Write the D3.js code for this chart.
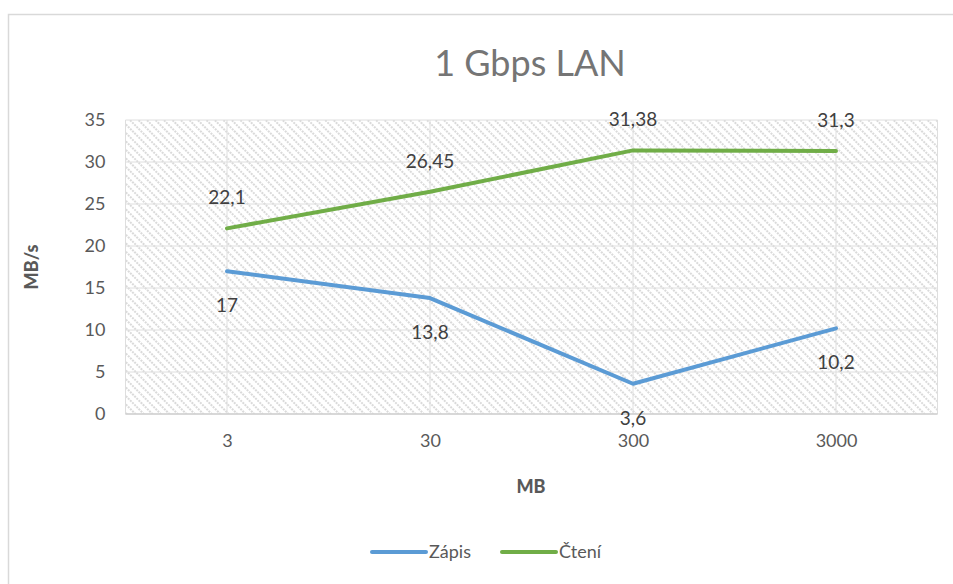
<!DOCTYPE html>
<html>
<head>
<meta charset="utf-8">
<script src="https://cdn.jsdelivr.net/npm/d3@7"></script>
<style>
  body { margin: 0; background: #fff; }
  svg text { font-family: Lato, "Open Sans", sans-serif; }
</style>
</head>
<body>
<svg id="chart" width="953" height="584"></svg>
<script>
// chart data
var categories = ['3', '30', '300', '3000'];
var zapis = [17, 13.8, 3.6, 10.2];
var cteni = [22.1, 26.45, 31.38, 31.3];
var yTicks = [0, 5, 10, 15, 20, 25, 30, 35];
var seriesNames = ['Zápis', 'Čtení'];
var seriesColors = ['#5b9bd5', '#70ad47'];

var svg = d3.select('#chart');

// hatch fill of the plot area ("\" direction)
var defs = svg.append('defs');
var pat = defs.append('pattern').attr('id', 'hatch')
    .attr('patternUnits', 'userSpaceOnUse').attr('width', 6).attr('height', 6)
    .attr('patternTransform', 'rotate(-45)');
pat.append('rect').attr('width', 6).attr('height', 6).attr('fill', '#fff');
pat.append('line').attr('x1', 1).attr('y1', 0).attr('x2', 1).attr('y2', 6)
   .attr('stroke', '#d6d6d6').attr('stroke-width', 1.8).attr('stroke-dasharray', '2,1');

// outer chart frame
svg.append('rect').attr('x', 8.5).attr('y', 14.5).attr('width', 960).attr('height', 600)
   .attr('fill', '#fff').attr('stroke', '#d9d9d9').attr('stroke-width', 1.5);

var x = d3.scalePoint().domain(categories).range([227, 836]).padding(0);
var step = x.step();
var plotL = x(categories[0]) - step / 2, plotR = x(categories[categories.length - 1]) + step / 2;
var y = d3.scaleLinear().domain([0, 35]).range([414, 120]);

var g = svg.append('g');
g.append('rect').attr('x', plotL).attr('y', y(35)).attr('width', plotR - plotL)
 .attr('height', y(0) - y(35)).attr('fill', 'url(#hatch)');

// gridlines
g.selectAll('.hgrid').data(yTicks).enter().append('line')
 .attr('x1', plotL).attr('x2', plotR).attr('y1', function (d) { return y(d); }).attr('y2', function (d) { return y(d); })
 .attr('stroke', '#dedede').attr('stroke-width', 1);
g.selectAll('.vgrid').data(categories).enter().append('line')
 .attr('x1', function (d) { return x(d); }).attr('x2', function (d) { return x(d); })
 .attr('y1', y(35)).attr('y2', y(0)).attr('stroke', '#dedede').attr('stroke-width', 1);
[plotL, plotR].forEach(function (xx) {
    g.append('line').attr('x1', xx).attr('x2', xx).attr('y1', y(35)).attr('y2', y(0))
     .attr('stroke', '#dedede').attr('stroke-width', 1);
});
g.append('line').attr('x1', plotL).attr('x2', plotR).attr('y1', y(0)).attr('y2', y(0))
 .attr('stroke', '#d0d0d0').attr('stroke-width', 1.5);

// axes labels
var yAxis = d3.axisLeft(y).tickValues(yTicks).tickSize(0).tickPadding(20);
var ya = g.append('g').attr('transform', 'translate(' + plotL + ',0)').call(yAxis);
ya.select('.domain').remove();
ya.selectAll('text').attr('font-size', 18).attr('fill', '#595959').attr('font-family', 'Lato, sans-serif');

var xAxis = d3.axisBottom(x).tickSize(0).tickPadding(20);
var xa = g.append('g').attr('transform', 'translate(0,' + y(0) + ')').call(xAxis);
xa.select('.domain').remove();
xa.selectAll('text').attr('font-size', 18).attr('fill', '#595959').attr('font-family', 'Lato, sans-serif');

// lines
var line = d3.line().x(function (d, i) { return x(categories[i]); }).y(function (d) { return y(d); });
[zapis, cteni].forEach(function (s, i) {
    g.append('path').datum(s).attr('d', line).attr('fill', 'none')
     .attr('stroke', seriesColors[i]).attr('stroke-width', 4).attr('stroke-linejoin', 'round').attr('stroke-linecap', 'round');
});

// data labels
function fmt(v) { return String(v).replace('.', ','); }
g.selectAll('.lz').data(zapis).enter().append('text')
 .attr('x', function (d, i) { return x(categories[i]); })
 .attr('y', function (d) { return y(d) + 41; })
 .attr('text-anchor', 'middle').attr('font-size', 19).attr('fill', '#404040')
 .text(fmt);
g.selectAll('.lc').data(cteni).enter().append('text')
 .attr('x', function (d, i) { return x(categories[i]); })
 .attr('y', function (d) { return y(d) - 24; })
 .attr('text-anchor', 'middle').attr('font-size', 19).attr('fill', '#404040')
 .text(fmt);

// title and axis titles
svg.append('text').attr('x', 530).attr('y', 76).attr('text-anchor', 'middle')
   .attr('font-size', 36).attr('fill', '#757575').text('1 Gbps LAN');
svg.append('text').attr('transform', 'translate(38,267) rotate(-90)').attr('text-anchor', 'middle')
   .attr('font-size', 18).attr('font-weight', 900).attr('fill', '#595959').text('MB/s');
svg.append('text').attr('x', 531).attr('y', 493).attr('text-anchor', 'middle')
   .attr('font-size', 18).attr('font-weight', 900).attr('fill', '#595959').text('MB');

// legend
var legX = [372, 502];
seriesNames.forEach(function (n, i) {
    svg.append('line').attr('x1', legX[i]).attr('x2', legX[i] + 54).attr('y1', 552).attr('y2', 552)
       .attr('stroke', seriesColors[i]).attr('stroke-width', 4).attr('stroke-linecap', 'round');
    svg.append('text').attr('x', legX[i] + 57).attr('y', 558).attr('font-size', 18)
       .attr('fill', '#595959').text(n);
});
</script>
</body>
</html>
